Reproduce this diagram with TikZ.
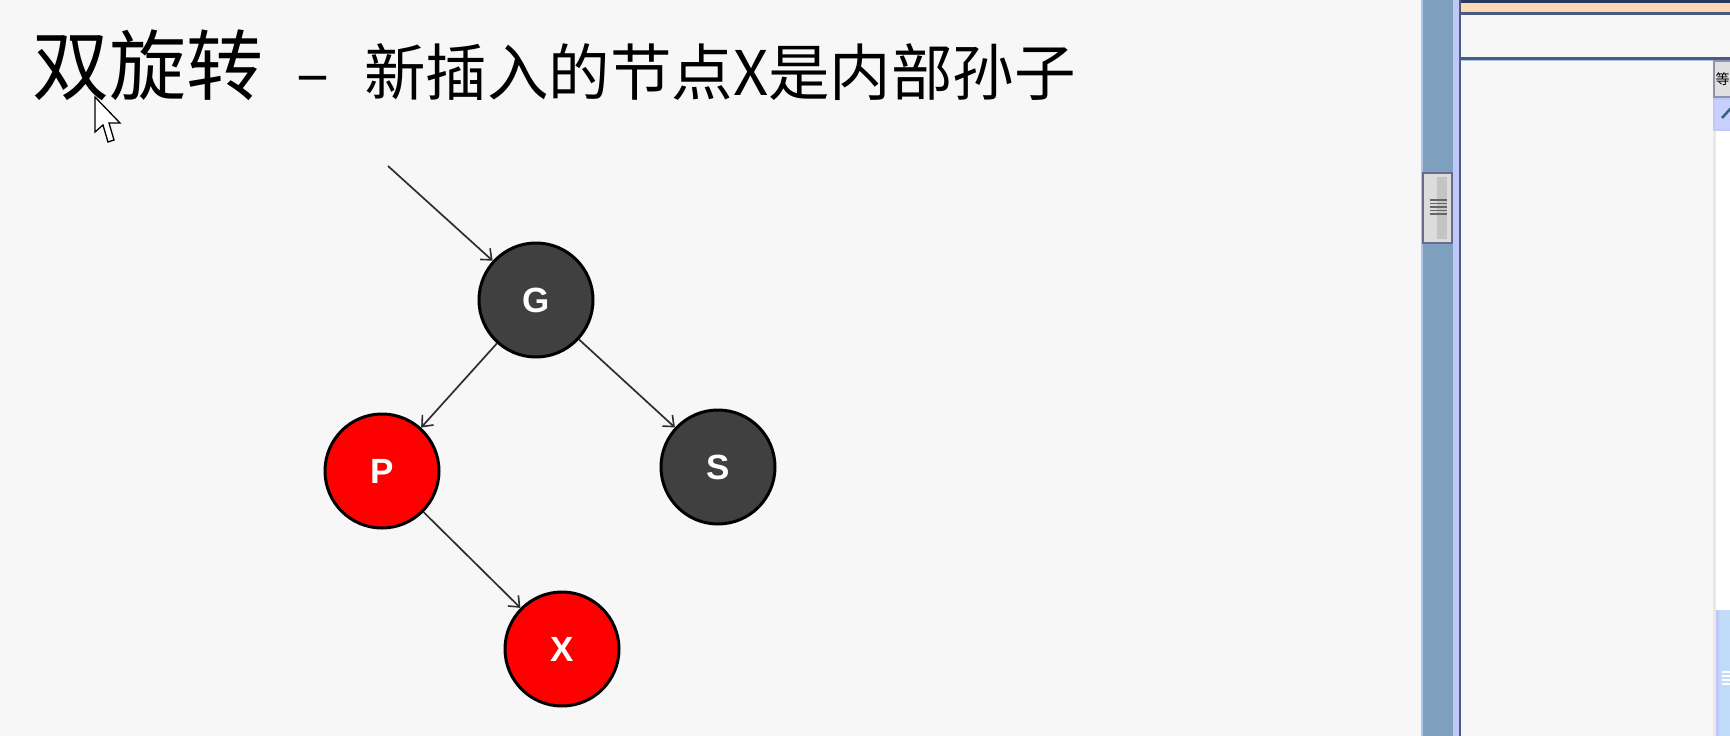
\documentclass[tikz,border=0pt]{standalone}
\usepackage{fontspec}
\newfontfamily\cjk{Noto Sans CJK SC}
\newfontfamily\arialf{Liberation Sans}
\usetikzlibrary{arrows.meta}
\definecolor{bg}{HTML}{F7F7F7}
\definecolor{nodegray}{HTML}{404040}
\definecolor{edgegray}{HTML}{2E2E2E}
\definecolor{steel}{HTML}{7F9FBF}
\definecolor{lightblueline}{HTML}{A8C8E8}
\definecolor{lavender}{HTML}{C0C8F8}
\definecolor{darkline}{HTML}{4A5A80}
\definecolor{navy}{HTML}{2A3A60}
\definecolor{peach}{HTML}{FDD9B5}
\definecolor{btngray}{HTML}{E0E0E0}
\definecolor{btnborder}{HTML}{9090B0}
\definecolor{btnblue}{HTML}{C8D0FF}
\definecolor{paleblue}{HTML}{C0DCF8}
\definecolor{thumbgray}{HTML}{DCDCDC}
\definecolor{thumbdark}{HTML}{C4C4C4}
\definecolor{thumbborder}{HTML}{6A6A90}
\tikzset{
  rbnode/.style={circle, draw=black, line width=3pt, minimum size=114pt, inner sep=0pt,
    text=white, font=\arialf\fontsize{35}{35}\selectfont\bfseries},
  blacknode/.style={rbnode, fill=nodegray},
  rednode/.style={rbnode, fill=red},
  edge/.style={draw=edgegray, line width=1.7pt, -{Straight Barb[length=9pt,width=15pt,line width=1.6pt]}},
  titlebig/.style={anchor=base west, inner sep=0pt, font=\cjk\fontsize{77}{77}\selectfont},
  titlesmall/.style={anchor=base west, inner sep=0pt, font=\cjk\fontsize{61.5}{61.5}\selectfont}
}
\begin{document}
\begin{tikzpicture}[x=1pt,y=-1pt]
\useasboundingbox (0,0) rectangle (1730,736);
\fill[bg] (0,0) rectangle (1730,736);
% right-hand window chrome
\fill[lightblueline] (1420.5,0) rectangle (1423,736);
\fill[steel] (1423,0) rectangle (1453,736);
\fill[lavender] (1453,0) rectangle (1459,736);
\fill[darkline] (1459,0) rectangle (1461,736);
\fill[navy] (1461,0) rectangle (1730,3);
\fill[peach] (1461,3) rectangle (1730,12);
\fill[darkline] (1461,12) rectangle (1730,15);
\fill[darkline] (1461,57) rectangle (1730,59.5);
\fill[lightblueline] (1461,59.5) rectangle (1730,61);
\fill[btngray!70] (1713,61) rectangle (1716,736);
\fill[white] (1716,130) rectangle (1730,610);
\fill[paleblue] (1716,610) rectangle (1730,736);
\fill[lavender] (1716,610) rectangle (1718.5,736);
\foreach \yy in {672,676,680,684} \draw[white, line width=1.5pt] (1722,\yy) -- (1730,\yy);
% buttons
\draw[fill=btngray, draw=btnborder, line width=1.2pt] (1714,61) rectangle (1732,97);
\node[anchor=center, inner sep=0pt, font=\cjk\fontsize{14}{14}\selectfont] (btnA) at (1722.5,79) {等};
\draw[fill=btnblue, draw=lavender, line width=1.2pt] (1714,99) rectangle (1732,130);
\draw[draw=darkline!80!teal, line width=2.5pt] (1722,118) -- (1731,108);
% scrollbar thumb
\draw[fill=thumbgray, draw=thumbborder, line width=1.5pt] (1423,173) rectangle (1452,243);
\fill[thumbdark] (1437,177) rectangle (1447,239);
\foreach \yy in {200,203.5,207,210.5,214} \draw[gray!80!black, line width=1.2pt] (1430,\yy) -- (1447,\yy);
% title
\node[titlebig] (t1) at (32,94) {双旋转};
\node[titlesmall] (t2) at (296,95) {–};
\node[titlesmall] (t3) at (364,95) {新插入的节点X是内部孙子};
% tree
\node[blacknode] (G) at (536,300) {G};
\node[rednode] (P) at (382,471) {P};
\node[blacknode] (S) at (718,467) {S};
\node[rednode] (X) at (562,649) {X};
\coordinate (in) at (388,166);
\draw[edge] (in) -- (G);
\draw[edge] (G) -- (P);
\draw[edge] (G) -- (S);
\draw[edge] (P) -- (X);
% mouse cursor
\draw[fill=white, draw=black, line width=1.3pt, line join=miter]
  (95,97) -- (95,132) -- (103,125) -- (108,142) -- (114,140) -- (109,123) -- (120,123) -- cycle;
\end{tikzpicture}
\end{document}
